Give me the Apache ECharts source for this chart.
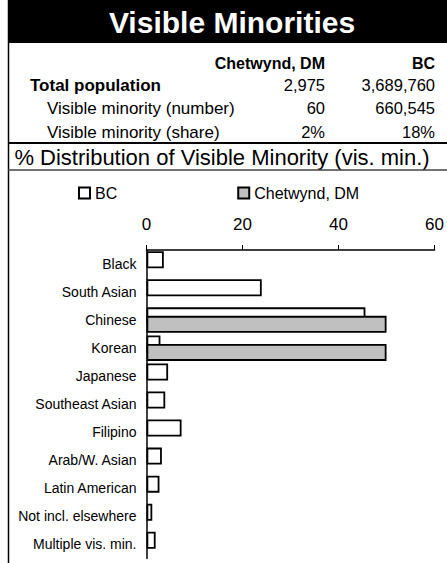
<!DOCTYPE html>
<html>
<head>
<meta charset="utf-8">
<script src="https://cdn.jsdelivr.net/npm/echarts@6/dist/echarts.min.js"></script>
<style>
  html, body { margin: 0; padding: 0; background: #fff; }
  #chart { width: 447px; height: 563px; }
</style>
</head>
<body>
<div id="chart"></div>
<script>
// 类别
const categories = [
  "Black", "South Asian", "Chinese", "Korean", "Japanese", "Southeast Asian",
  "Filipino", "Arab/W. Asian", "Latin American", "Not incl. elsewhere", "Multiple vis. min."
];
// % distribution
const bcValues = [3.6, 24.0, 45.6, 2.9, 4.5, 3.9, 7.3, 3.2, 2.7, 1.2, 1.9];
const chetwyndValues = [0, 0, 50, 50, 0, 0, 0, 0, 0, 0, 0];

// 表头数据
const tableHeader = ["Chetwynd, DM", "BC"];
const tableRows = [
  ["Total population", "2,975", "3,689,760"],
  ["Visible minority (number)", "60", "660,545"],
  ["Visible minority (share)", "2%", "18%"]
];
const xTicks = [0, 60, 20];

const FONT = "Liberation Sans, Arial, sans-serif";

const chart = echarts.init(document.getElementById("chart"), null, { renderer: "svg" });

// 表格文字
const rowY = [85, 108, 132];
const tableGraphics = [];
tableGraphics.push(
  { type: "text", x: 325, y: 63, style: { text: tableHeader[0], font: "bold 16px " + FONT, fill: "#000", align: "right", verticalAlign: "middle" } },
  { type: "text", x: 435, y: 63, style: { text: tableHeader[1], font: "bold 16px " + FONT, fill: "#000", align: "right", verticalAlign: "middle" } }
);
tableRows.forEach((row, i) => {
  const bold = i === 0;
  tableGraphics.push(
    { type: "text", x: bold ? 30 : 47, y: rowY[i], style: { text: row[0], font: (bold ? "bold 17px " : "17px ") + FONT, fill: "#000", verticalAlign: "middle" } },
    { type: "text", x: 325, y: rowY[i], style: { text: row[1], font: "16.5px " + FONT, fill: "#000", align: "right", verticalAlign: "middle" } },
    { type: "text", x: 435, y: rowY[i], style: { text: row[2], font: "16.5px " + FONT, fill: "#000", align: "right", verticalAlign: "middle" } }
  );
});

chart.setOption({
  animation: false,
  backgroundColor: "#fff",
  textStyle: { fontFamily: FONT },
  graphic: [
    // 标题黑底
    { type: "rect", shape: { x: 8, y: 0, width: 439, height: 43 }, style: { fill: "#000" } },
    { type: "text", x: 232, y: 22, style: { text: "Visible Minorities", font: "bold 30px " + FONT, fill: "#fff", align: "center", verticalAlign: "middle" } },
    // 左边框
    { type: "line", shape: { x1: 8.5, y1: 0, x2: 8.5, y2: 563 }, style: { stroke: "#000", lineWidth: 1.5 } },
    // 分隔线
    { type: "line", shape: { x1: 8, y1: 143, x2: 447, y2: 143 }, style: { stroke: "#000", lineWidth: 2 } },
    { type: "text", x: 222, y: 157, style: { text: "% Distribution of Visible Minority (vis. min.)", font: "22px " + FONT, fill: "#000", align: "center", verticalAlign: "middle" } },
    { type: "line", shape: { x1: 8, y1: 170, x2: 447, y2: 170 }, style: { stroke: "#444", lineWidth: 1.5 } },
    ...tableGraphics
  ],
  legend: {
    left: 73,
    top: 180,
    itemWidth: 11,
    itemHeight: 11,
    itemGap: 120,
    icon: "rect",
    textStyle: { fontSize: 16, color: "#000", fontFamily: FONT },
    data: ["BC", "Chetwynd, DM"]
  },
  grid: { left: 146.5, right: 11, top: 250, bottom: 4.5 },
  xAxis: {
    type: "value",
    position: "top",
    min: xTicks[0],
    max: xTicks[1],
    interval: xTicks[2],
    axisLine: { show: true, lineStyle: { color: "#000", width: 1.5 } },
    axisTick: { show: true, length: 5, lineStyle: { color: "#000" } },
    axisLabel: { fontSize: 17, color: "#000", margin: 17, fontFamily: FONT },
    splitLine: { show: false }
  },
  yAxis: {
    type: "category",
    inverse: true,
    data: categories,
    axisLine: { show: true, lineStyle: { color: "#000", width: 1.5 } },
    axisTick: { show: false },
    axisLabel: { fontSize: 14, color: "#000", margin: 10, fontFamily: FONT }
  },
  series: [
    {
      name: "BC",
      type: "bar",
      data: bcValues,
      barWidth: 17,
      barGap: "-50%",
      itemStyle: { color: "#fff", borderColor: "#000", borderWidth: 1.8 }
    },
    {
      name: "Chetwynd, DM",
      type: "bar",
      data: chetwyndValues.map((v) => (v === 0 ? "-" : v)),
      barWidth: 17,
      itemStyle: { color: "#c0c0c0", borderColor: "#000", borderWidth: 1.8 }
    }
  ]
});
</script>
</body>
</html>
